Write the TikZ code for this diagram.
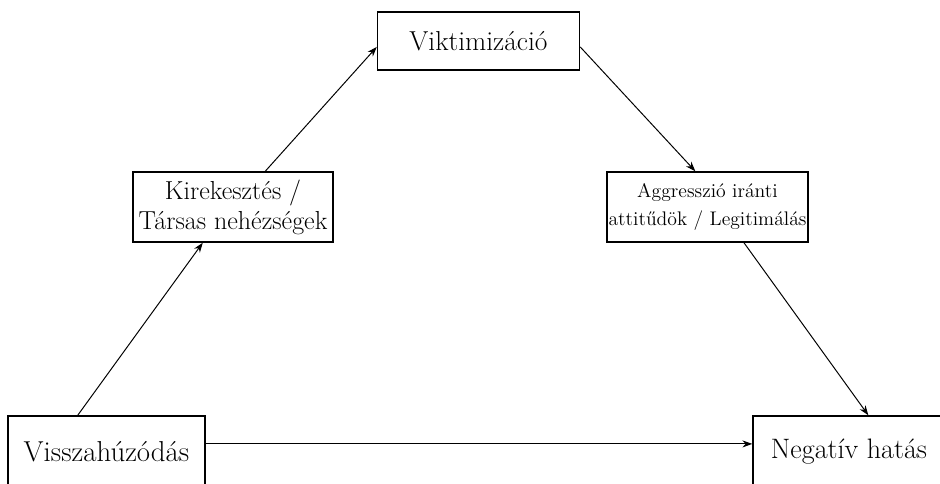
\documentclass[tikz,border=0pt]{standalone}
\usepackage{fontspec}
\usetikzlibrary{arrows.meta, calc}

\tikzset{
  doboz/.style={draw, line width=1pt, inner sep=0pt, align=center},
  nyil/.style={line width=0.7pt, -{Stealth[length=7pt, width=5pt]}}
}

\begin{document}
\begin{tikzpicture}[x=0.025cm, y=-0.025cm]

    \useasboundingbox (0,0) rectangle (940,484);
    \clip (0,0) rectangle (940,484);
    \fill[white] (0,0) rectangle (940,484);

    % boxes
    \node[doboz, minimum width=5.05cm, minimum height=1.45cm, font=\fontsize{19.5}{23}\selectfont] (vikt) at (478.5,41) {Viktimizáció};
    \node[doboz, minimum width=5cm, minimum height=1.75cm, font=\fontsize{18.5}{21.3}\selectfont] (kirek) at (233,207) {Kirekesztés /\\Társas nehézségek};
    \node[doboz, minimum width=5.025cm, minimum height=1.75cm, font=\fontsize{14}{20}\selectfont] (aggr) at (707.5,207) {Aggresszió iránti\\attitűdök / Legitimálás};
    \node[doboz, minimum width=4.925cm, minimum height=1.8cm, font=\fontsize{20.5}{24}\selectfont] (vissza) at (106.5,452) {Visszahúzódás};
    \node[doboz, minimum width=4.8cm, minimum height=1.8cm, font=\fontsize{20}{24}\selectfont] (neg) at (849,452) {Negatív hatás};

    % arrows
    \draw[nyil] ($(vissza.north west)!0.355!(vissza.north east)$) -- ($(kirek.south west)!0.35!(kirek.south east)$);
    \draw[nyil] ($(kirek.north west)!0.66!(kirek.north east)$) -- ($(vikt.north west)!0.6!(vikt.south west)$);
    \draw[nyil] ($(vikt.north east)!0.6!(vikt.south east)$) -- ($(aggr.north west)!0.44!(aggr.north east)$);
    \draw[nyil] ($(aggr.south west)!0.68!(aggr.south east)$) -- ($(neg.north west)!0.6!(neg.north east)$);
    \draw[nyil] ($(vissza.north east)!0.39!(vissza.south east)$) coordinate (h) -- (h -| neg.west);

\end{tikzpicture}
\end{document}
